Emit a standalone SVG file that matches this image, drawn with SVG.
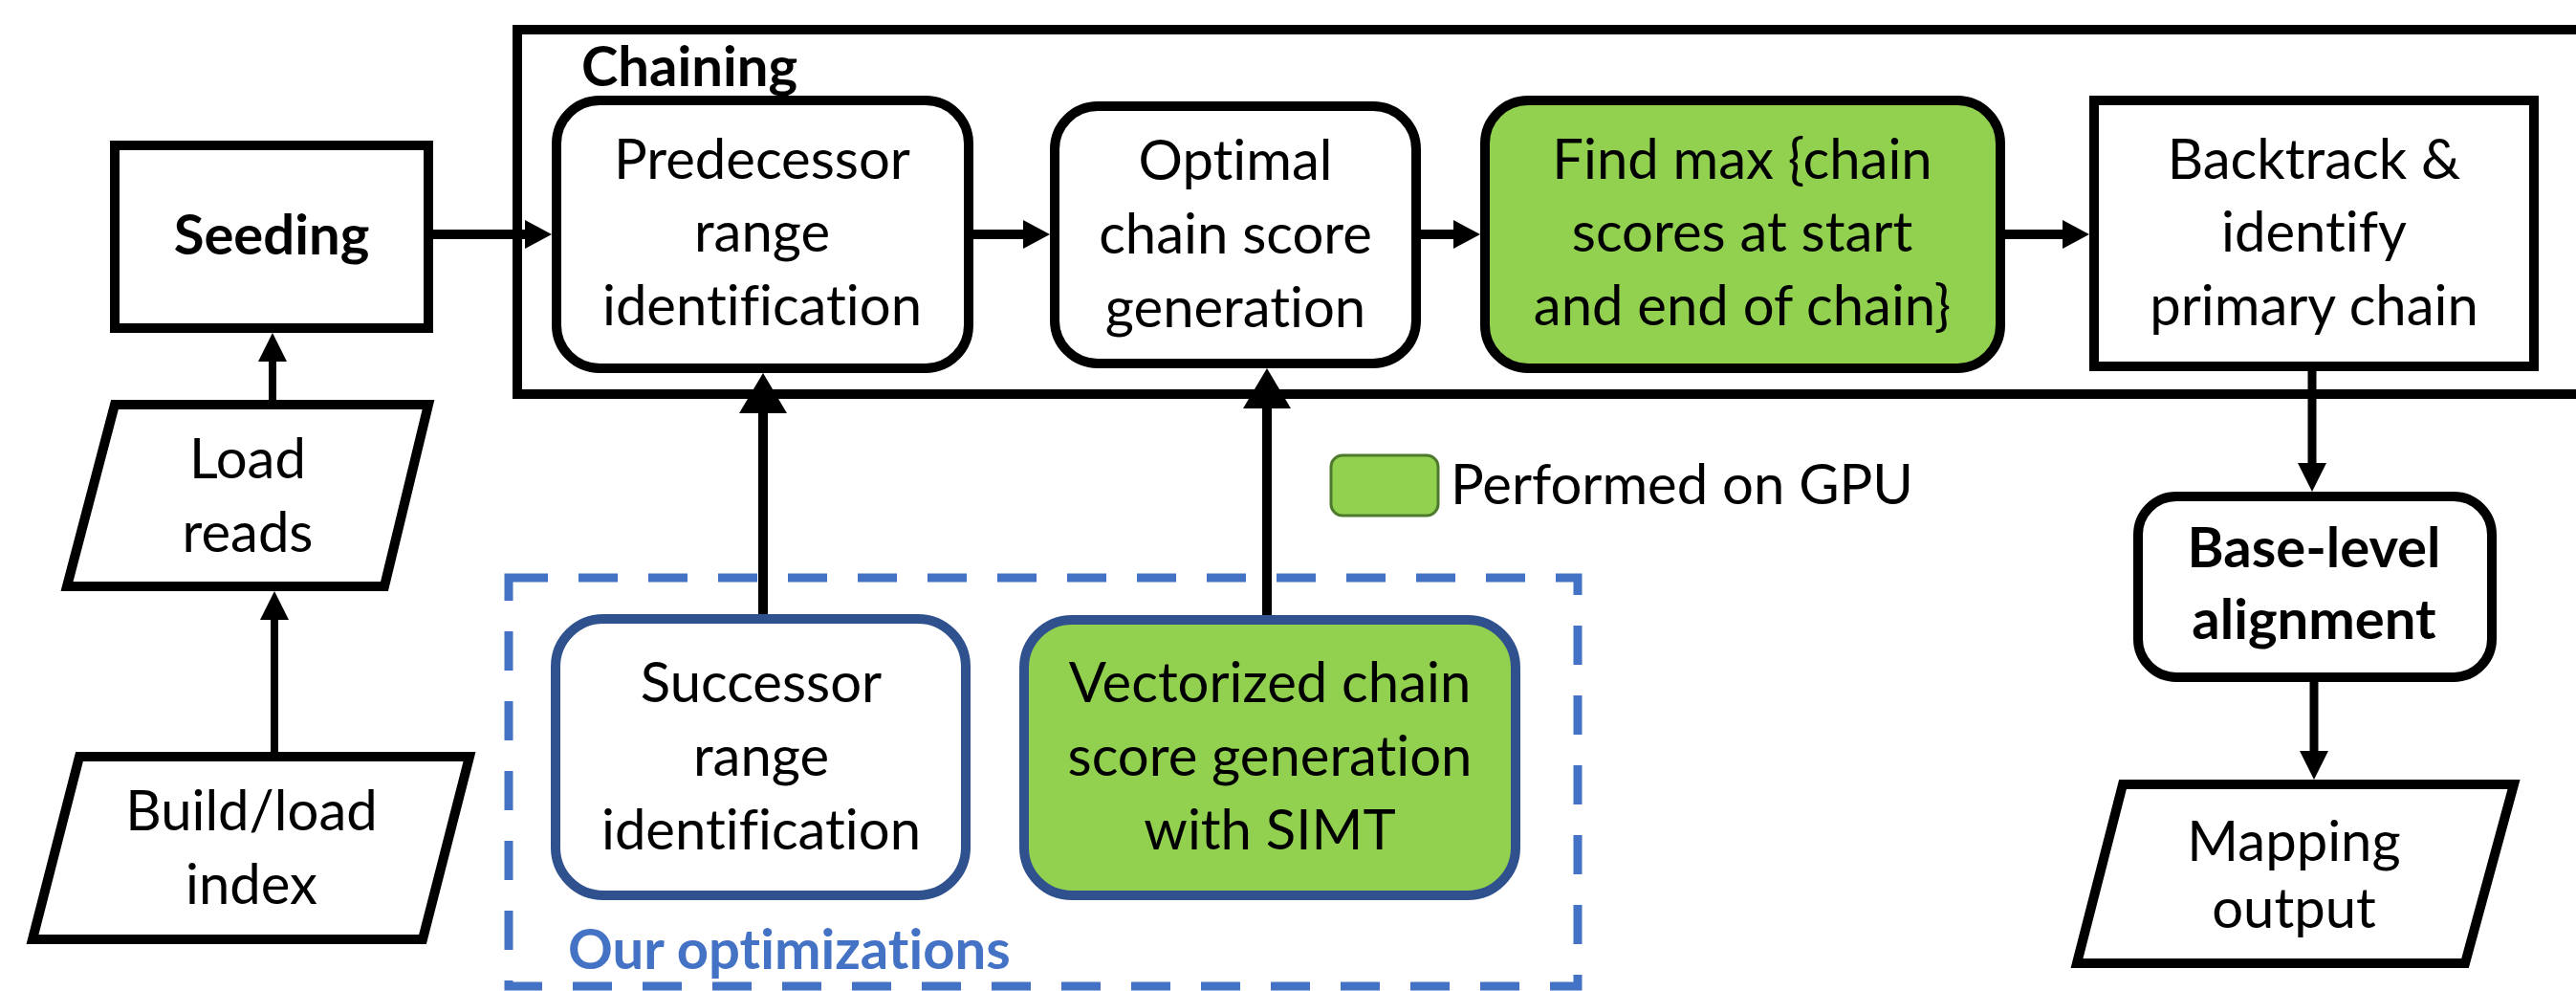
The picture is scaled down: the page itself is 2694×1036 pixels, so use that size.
<svg xmlns="http://www.w3.org/2000/svg" width="2694" height="1036" viewBox="0 0 2694 1036">
<style>
  text { font-family: Lato, "Open Sans", "Liberation Sans", sans-serif; font-size: 58px; fill: #000; font-variant-ligatures: none; font-feature-settings: "liga" 0; }
  .c { text-anchor: middle; }
  .b { font-weight: bold; }
  .blk { fill: #fff; stroke: #000; stroke-width: 10; }
  .gpu { fill: #92D050; }
  .opt { stroke: #2F528F; stroke-width: 10; }
  .conn line { stroke: #000; }
</style>
<defs>
  <marker id="ah" markerUnits="userSpaceOnUse" markerWidth="28" markerHeight="30" refX="0" refY="15" orient="auto" overflow="visible">
    <path d="M0,0 L28,15 L0,30 Z" fill="#000"/>
  </marker>
  <marker id="av" markerUnits="userSpaceOnUse" markerWidth="30" markerHeight="30" refX="0" refY="15" orient="auto" overflow="visible">
    <path d="M0,0 L30,15 L0,30 Z" fill="#000"/>
  </marker>
  <marker id="ab" markerUnits="userSpaceOnUse" markerWidth="42" markerHeight="50" refX="0" refY="25" orient="auto" overflow="visible">
    <path d="M0,0 L42,25 L0,50 Z" fill="#000"/>
  </marker>
</defs>
<rect width="2694" height="1036" fill="#fff"/>

<g id="chaining">
  <rect x="541" y="31" width="2200" height="381" fill="none" stroke="#000" stroke-width="10"/>
  <text class="b" x="608" y="90" font-size="57">Chaining</text>
</g>

<g id="optimizations">
  <rect x="532" y="604" width="1118" height="427" fill="none" stroke="#4472C4" stroke-width="9" stroke-dasharray="41 32"/>
  <text class="b" x="594" y="1013" style="fill:#4472C4">Our optimizations</text>
</g>

<g id="seeding">
  <rect class="blk" x="120" y="152" width="328" height="191"/>
  <text class="c b" x="284" y="266">Seeding</text>
</g>

<g id="load-reads">
  <polygon class="blk" points="120,423 448,423 402,613 70,613"/>
  <text class="c" x="259" y="500">Load</text>
  <text class="c" x="259" y="577">reads</text>
</g>

<g id="build-index">
  <polygon class="blk" points="83,791 491,791 442,982 34,982"/>
  <text class="c" x="263" y="868">Build/load</text>
  <text class="c" x="263" y="945">index</text>
</g>

<g id="predecessor">
  <rect class="blk" x="582" y="105" width="431" height="280" rx="45"/>
  <text class="c" x="797" y="187">Predecessor</text>
  <text class="c" x="797" y="263">range</text>
  <text class="c" x="797" y="340">identification</text>
</g>

<g id="optimal">
  <rect class="blk" x="1103" y="111" width="378" height="269" rx="45"/>
  <text class="c" x="1292" y="188">Optimal</text>
  <text class="c" x="1292" y="265">chain score</text>
  <text class="c" x="1292" y="342">generation</text>
</g>

<g id="findmax">
  <rect class="blk gpu" x="1553" y="105" width="539" height="280" rx="45"/>
  <text class="c" x="1822" y="187">Find max {chain</text>
  <text class="c" x="1822" y="263">scores at start</text>
  <text class="c" x="1822" y="340">and end of chain}</text>
</g>

<g id="backtrack">
  <rect class="blk" x="2190" y="105" width="460" height="278"/>
  <text class="c" x="2420" y="187">Backtrack &amp;</text>
  <text class="c" x="2420" y="263">identify</text>
  <text class="c" x="2420" y="340">primary chain</text>
</g>

<g id="successor">
  <rect class="opt" fill="#fff" x="581" y="647" width="429" height="289" rx="50"/>
  <text class="c" x="796" y="734">Successor</text>
  <text class="c" x="796" y="811">range</text>
  <text class="c" x="796" y="888">identification</text>
</g>

<g id="vectorized">
  <rect class="opt gpu" x="1071" y="648" width="514" height="288" rx="50"/>
  <text class="c" x="1328" y="734">Vectorized chain</text>
  <text class="c" x="1328" y="811">score generation</text>
  <text class="c" x="1328" y="888">with SIMT</text>
</g>

<g id="legend">
  <rect x="1392" y="476" width="112" height="63" rx="12" fill="#92D050" stroke="#4E7A2E" stroke-width="3"/>
  <text x="1517" y="527">Performed on GPU</text>
</g>

<g id="base-level">
  <rect class="blk" x="2236" y="519" width="370" height="189" rx="40"/>
  <text class="c b" x="2420" y="593">Base-level</text>
  <text class="c b" x="2420" y="668">alignment</text>
</g>

<g id="mapping-output">
  <polygon class="blk" points="2220,820 2629,820 2578,1007 2172,1007"/>
  <text class="c" x="2399" y="900">Mapping</text>
  <text class="c" x="2399" y="970">output</text>
</g>

<g id="connectors" class="conn">
  <line x1="453" y1="245" x2="549" y2="245" stroke-width="10" marker-end="url(#ah)"/>
  <line x1="1018" y1="245" x2="1070" y2="245" stroke-width="10" marker-end="url(#ah)"/>
  <line x1="1486" y1="245" x2="1520" y2="245" stroke-width="10" marker-end="url(#ah)"/>
  <line x1="2097" y1="245" x2="2157" y2="245" stroke-width="10" marker-end="url(#ah)"/>
  <line x1="287" y1="786" x2="287" y2="648" stroke-width="8" marker-end="url(#av)"/>
  <line x1="285" y1="418" x2="285" y2="378" stroke-width="8" marker-end="url(#av)"/>
  <line x1="798" y1="642" x2="798" y2="432" stroke-width="10" marker-end="url(#ab)"/>
  <line x1="1325" y1="643" x2="1325" y2="427" stroke-width="10" marker-end="url(#ab)"/>
  <line x1="2418" y1="388" x2="2418" y2="484" stroke-width="9" marker-end="url(#av)"/>
  <line x1="2420" y1="713" x2="2420" y2="785" stroke-width="9" marker-end="url(#av)"/>
</g>
</svg>
